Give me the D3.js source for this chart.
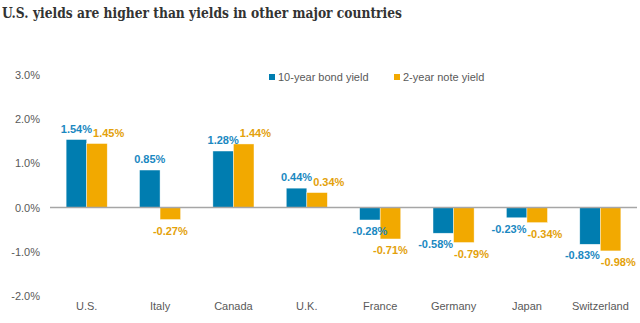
<!DOCTYPE html>
<html><head><meta charset="utf-8">
<script src="https://cdn.jsdelivr.net/npm/d3@7"></script>
<style>
html,body{margin:0;padding:0;background:#fff;}
svg{display:block;}
</style></head>
<body>
<svg id="chart" width="640" height="323"></svg>
<script>
const title = "U.S. yields are higher than yields in other major countries";
const countries = ["U.S.", "Italy", "Canada", "U.K.", "France", "Germany", "Japan", "Switzerland"];
const tenYear = [1.54, 0.85, 1.28, 0.44, -0.28, -0.58, -0.23, -0.83];
const twoYear = [1.45, -0.27, 1.44, 0.34, -0.71, -0.79, -0.34, -0.98];
const seriesNames = ["10-year bond yield", "2-year note yield"];
const yTicks = [-2, -1, 0, 1, 2, 3];

const colors = ["#007DB0", "#F2A900"];
const labelColors = ["#1A88C1", "#E3A10A"];

const svg = d3.select("#chart");
const W = 640, H = 323;

const x = d3.scaleBand().domain(countries).range([50, 637]).paddingInner(0.44).paddingOuter(0.22);
const xs = d3.scaleBand().domain([0, 1]).range([0, x.bandwidth()]);
const y = d3.scaleLinear().domain([-2, 3]).range([296, 75]);

// title
svg.append("text")
  .attr("x", 2).attr("y", 18)
  .attr("font-family", "'DejaVu Serif', 'Liberation Serif', serif")
  .attr("font-weight", "bold")
  .attr("font-size", 14.5)
  .attr("fill", "#333")
  .attr("textLength", 400)
  .attr("lengthAdjust", "spacingAndGlyphs")
  .text(title);

// y axis
const yAxis = d3.axisLeft(y).tickValues(yTicks).tickSize(0).tickPadding(0)
  .tickFormat(d => d.toFixed(1) + "%");
const yg = svg.append("g").attr("transform", "translate(40,0)").call(yAxis);
yg.select(".domain").remove();
yg.selectAll("text").attr("font-family", "'Liberation Sans', Arial, sans-serif")
  .attr("font-size", 11).attr("fill", "#595959");

// x axis labels
const xAxis = d3.axisBottom(x).tickSize(0).tickPadding(0);
const xg = svg.append("g").attr("transform", "translate(0,302)").call(xAxis);
xg.select(".domain").remove();
xg.selectAll("text").attr("font-family", "'Liberation Sans', Arial, sans-serif")
  .attr("font-size", 11).attr("fill", "#595959");

// data rows
const rows = countries.map((c, i) => ({c, v: [tenYear[i], twoYear[i]]}));

const groups = svg.append("g").selectAll("g").data(rows).join("g")
  .attr("transform", d => `translate(${x(d.c)},0)`);

groups.selectAll("rect").data(d => d.v.map((v, s) => ({v, s}))).join("rect")
  .attr("x", d => xs(d.s))
  .attr("width", xs.bandwidth())
  .attr("y", d => y(Math.max(0, d.v)))
  .attr("height", d => Math.abs(y(d.v) - y(0)))
  .attr("fill", d => colors[d.s])
  .attr("stroke", "rgba(255,255,255,0.7)")
  .attr("stroke-width", 0.6);

// zero line
svg.append("line")
  .attr("x1", 50).attr("x2", 637)
  .attr("y1", y(0)).attr("y2", y(0))
  .attr("stroke", "#A6A6A6").attr("stroke-width", 1.5);

// data labels with simple collision avoidance
const fmt = v => v.toFixed(2) + "%";
const labelLayer = svg.append("g");
const measure = labelLayer.append("text")
  .attr("font-family", "'Liberation Sans', Arial, sans-serif")
  .attr("font-weight", "bold").attr("font-size", 11);
function textW(s) { measure.text(s); return measure.node().getComputedTextLength(); }

rows.forEach(r => {
  const labs = r.v.map((v, s) => {
    const cx = x(r.c) + xs(s) + xs.bandwidth() / 2;
    const base = v >= 0 ? y(v) - 7 : y(v) + 15;
    const w = textW(fmt(v));
    return {v, s, cx, base, w};
  });
  const [a, b] = labs;
  const vOverlap = Math.abs(a.base - b.base) < 11;
  const overlap = (a.cx + a.w / 2) - (b.cx - b.w / 2) + 1;
  if (vOverlap && overlap > 0) {
    if (a.v >= 0 && b.v >= 0) { b.cx += overlap; }
    else { a.cx -= overlap / 2; b.cx += overlap / 2; }
  }
  labs.forEach(l => {
    labelLayer.append("text")
      .attr("x", l.cx).attr("y", l.base)
      .attr("text-anchor", "middle")
      .attr("font-family", "'Liberation Sans', Arial, sans-serif")
      .attr("font-weight", "bold").attr("font-size", 11)
      .attr("fill", labelColors[l.s])
      .text(fmt(l.v));
  });
});
measure.remove();

// legend
const legendX = [269, 394];
const leg = svg.append("g").selectAll("g").data(seriesNames).join("g")
  .attr("transform", (d, i) => `translate(${legendX[i]},0)`);
leg.append("rect").attr("x", 0).attr("y", 74).attr("width", 6).attr("height", 6)
  .attr("fill", (d, i) => colors[i]);
leg.append("text").attr("x", 9).attr("y", 80.5)
  .attr("font-family", "'Liberation Sans', Arial, sans-serif")
  .attr("font-size", 11).attr("fill", "#595959")
  .text(d => d);
</script>
</body></html>
